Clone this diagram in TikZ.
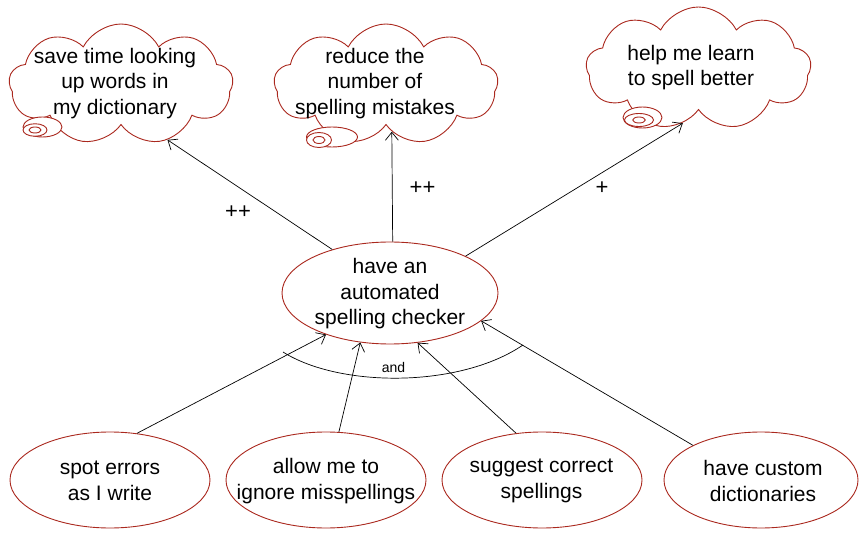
\documentclass[tikz,border=0pt]{standalone}
\usepackage{fontspec}
\setmainfont{Liberation Sans}
\usetikzlibrary{shapes.geometric,shapes.symbols,arrows.meta}
\definecolor{ored}{RGB}{170,40,30}
\begin{document}
\begin{tikzpicture}[x=1pt,y=-1pt,
  ell/.style={ellipse,draw=ored,line width=0.9pt,inner sep=0,fill=white},
  txt/.style={align=center,font=\fontsize{21}{25.5}\selectfont,inner sep=0},
  thought/.style={cloud,cloud puffs=9,cloud puff arc=125,cloud ignores aspect,draw=ored,line width=0.9pt,inner sep=0,fill=white},
  arr/.style={-{Straight Barb[length=8pt,width=13pt]},line width=0.7pt},
  lbl/.style={font=\fontsize{22}{24}\selectfont,inner sep=0},
]
\useasboundingbox (0,0) rectangle (859,534);

% clouds
\node[thought,minimum width=224pt,minimum height=121pt] (k1) at (121,84.5) {};
\node[ell,minimum width=39pt,minimum height=20pt] (k1l) at (42.5,127) {};
\node[ell,minimum width=24pt,minimum height=12.5pt] (k1o) at (35,130) {};
\node[ell,minimum width=12pt,minimum height=6pt] (k1i) at (35,130) {};
\node[txt] (k1t) at (115,83.5) {save time looking\\up words in\\my dictionary};

\node[thought,minimum width=224pt,minimum height=121pt] (k2) at (386,84.5) {};
\node[ell,minimum width=51pt,minimum height=20pt] (k2l) at (332,137) {};
\node[ell,minimum width=25pt,minimum height=15pt] (k2o) at (319,140) {};
\node[ell,minimum width=12pt,minimum height=7pt] (k2i) at (319,140) {};
\node[txt] (k2t) at (375,83.5) {reduce the\\number of\\spelling mistakes};

\node[thought,minimum width=225pt,minimum height=123pt] (k3) at (698.5,68.5) {};
\node[ell,minimum width=39pt,minimum height=21pt] (k3l) at (642.5,117.5) {};
\node[ell,minimum width=29pt,minimum height=13pt] (k3o) at (639,120) {};
\node[ell,minimum width=12.6pt,minimum height=6pt] (k3i) at (639,120) {};
\node[txt] (k3t) at (691,67.5) {help me learn\\to spell better};

% central goal
\node[ell,minimum width=216pt,minimum height=102pt] (c) at (390,293) {};
\node[txt] (ct) at (390,294) {have an\\automated\\spelling checker};

% bottom goals
\node[ell,minimum width=200pt,minimum height=96pt] (s) at (110,480) {};
\node[txt] (st) at (110,481) {spot errors\\as I write};
\node[ell,minimum width=200pt,minimum height=96pt] (a) at (326,480) {};
\node[txt] (at) at (326,481) {allow me to\\ignore misspellings};
\node[ell,minimum width=200pt,minimum height=96pt] (g) at (542,480) {};
\node[txt] (gt) at (541.5,481) {suggest correct\\spellings};
\node[ell,minimum width=194pt,minimum height=96pt] (d) at (761,480) {};
\node[txt] (dt) at (763,481) {have custom\\dictionaries};

% contributions
\draw[arr] (c.143) -- (k1.-50);
\draw[arr] (c.87) -- (k2.-83);
\draw[arr] (c.26) -- (k3.-106);
\node[lbl] (p1) at (238,212) {++};
\node[lbl] (p2) at (422.5,188) {++};
\node[lbl] (p3) at (602,188) {+};

% decomposition
\draw[arr] (s.60) -- (c.213);
\draw[arr] (a.75) -- (c.239);
\draw[arr] (g.119) -- (c.299);
\draw[arr] (d.153) -- (c.343);
\coordinate (arcL) at (283,352);
\coordinate (arcR) at (523,345);
\draw[line width=0.7pt] (arcL) .. controls (340,388) and (460,388) .. (arcR);
\node[font=\fontsize{14}{16}\selectfont,inner sep=0] (andl) at (393.5,367) {and};
\end{tikzpicture}
\end{document}
